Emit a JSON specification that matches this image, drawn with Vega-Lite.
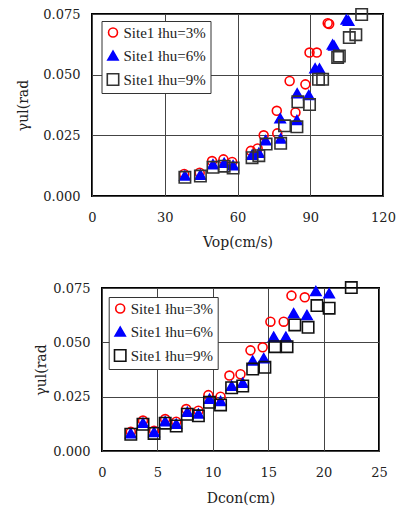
{
  "$schema": "https://vega.github.io/schema/vega-lite/v6.json",
  "background": "white",
  "padding": {"left": 15, "top": 4, "right": 5, "bottom": 2},
  "bounds": "flush",
  "spacing": 92,
  "config": {
    "font": "DejaVu Serif",
    "view": {"stroke": "#000000", "strokeWidth": 2},
    "axis": {
      "grid": true,
      "gridColor": "#444444",
      "gridWidth": 1,
      "gridOpacity": 1,
      "domain": false,
      "ticks": false,
      "labelFlush": false,
      "labelFont": "DejaVu Serif",
      "labelFontSize": 13,
      "labelColor": "#222222",
      "titleFont": "DejaVu Serif",
      "titleFontSize": 14,
      "titleFontWeight": "normal",
      "titleColor": "#222222"
    },
    "legend": {
      "labelFont": "Liberation Serif",
      "labelFontSize": 15,
      "labelColor": "#222222",
      "strokeColor": "#333333",
      "fillColor": "white",
      "padding": 4,
      "rowPadding": 6,
      "labelOffset": 3,
      "symbolStrokeWidth": 1.6
    }
  },
  "datasets": {
    "vop": [
      {"series": "Site1 łhu=3%", "Vop": 38.0, "gamma": 0.0091},
      {"series": "Site1 łhu=3%", "Vop": 44.4, "gamma": 0.0096},
      {"series": "Site1 łhu=3%", "Vop": 49.5, "gamma": 0.0144},
      {"series": "Site1 łhu=3%", "Vop": 54.2, "gamma": 0.0151},
      {"series": "Site1 łhu=3%", "Vop": 57.8, "gamma": 0.0140},
      {"series": "Site1 łhu=3%", "Vop": 65.5, "gamma": 0.0186},
      {"series": "Site1 łhu=3%", "Vop": 68.3, "gamma": 0.0196},
      {"series": "Site1 łhu=3%", "Vop": 70.8, "gamma": 0.0250},
      {"series": "Site1 łhu=3%", "Vop": 76.4, "gamma": 0.0258},
      {"series": "Site1 łhu=3%", "Vop": 76.2, "gamma": 0.0351},
      {"series": "Site1 łhu=3%", "Vop": 83.9, "gamma": 0.0344},
      {"series": "Site1 łhu=3%", "Vop": 81.5, "gamma": 0.0474},
      {"series": "Site1 łhu=3%", "Vop": 88.0, "gamma": 0.0460},
      {"series": "Site1 łhu=3%", "Vop": 89.7, "gamma": 0.0591},
      {"series": "Site1 łhu=3%", "Vop": 92.7, "gamma": 0.0591},
      {"series": "Site1 łhu=3%", "Vop": 97.2, "gamma": 0.0712},
      {"series": "Site1 łhu=3%", "Vop": 97.8, "gamma": 0.0709},
      {"series": "Site1 łhu=6%", "Vop": 38.3, "gamma": 0.0084},
      {"series": "Site1 łhu=6%", "Vop": 44.7, "gamma": 0.0088},
      {"series": "Site1 łhu=6%", "Vop": 49.9, "gamma": 0.0131},
      {"series": "Site1 łhu=6%", "Vop": 54.5, "gamma": 0.0137},
      {"series": "Site1 łhu=6%", "Vop": 58.2, "gamma": 0.0127},
      {"series": "Site1 łhu=6%", "Vop": 66.0, "gamma": 0.0170},
      {"series": "Site1 łhu=6%", "Vop": 68.8, "gamma": 0.0178},
      {"series": "Site1 łhu=6%", "Vop": 71.6, "gamma": 0.0230},
      {"series": "Site1 łhu=6%", "Vop": 77.8, "gamma": 0.0237},
      {"series": "Site1 łhu=6%", "Vop": 77.6, "gamma": 0.0320},
      {"series": "Site1 łhu=6%", "Vop": 84.5, "gamma": 0.0313},
      {"series": "Site1 łhu=6%", "Vop": 84.6, "gamma": 0.0423},
      {"series": "Site1 łhu=6%", "Vop": 89.4, "gamma": 0.0416},
      {"series": "Site1 łhu=6%", "Vop": 92.0, "gamma": 0.0526},
      {"series": "Site1 łhu=6%", "Vop": 93.8, "gamma": 0.0525},
      {"series": "Site1 łhu=6%", "Vop": 99.2, "gamma": 0.0624},
      {"series": "Site1 łhu=6%", "Vop": 99.8, "gamma": 0.0620},
      {"series": "Site1 łhu=6%", "Vop": 104.9, "gamma": 0.0727},
      {"series": "Site1 łhu=6%", "Vop": 105.8, "gamma": 0.0722},
      {"series": "Site1 łhu=9%", "Vop": 38.3, "gamma": 0.0077},
      {"series": "Site1 łhu=9%", "Vop": 44.7, "gamma": 0.0082},
      {"series": "Site1 łhu=9%", "Vop": 49.9, "gamma": 0.0118},
      {"series": "Site1 łhu=9%", "Vop": 54.5, "gamma": 0.0123},
      {"series": "Site1 łhu=9%", "Vop": 58.2, "gamma": 0.0115},
      {"series": "Site1 łhu=9%", "Vop": 66.0, "gamma": 0.0158},
      {"series": "Site1 łhu=9%", "Vop": 68.8, "gamma": 0.0166},
      {"series": "Site1 łhu=9%", "Vop": 71.8, "gamma": 0.0214},
      {"series": "Site1 łhu=9%", "Vop": 77.8, "gamma": 0.0217},
      {"series": "Site1 łhu=9%", "Vop": 79.4, "gamma": 0.0289},
      {"series": "Site1 łhu=9%", "Vop": 84.5, "gamma": 0.0285},
      {"series": "Site1 łhu=9%", "Vop": 84.9, "gamma": 0.0388},
      {"series": "Site1 łhu=9%", "Vop": 89.7, "gamma": 0.0377},
      {"series": "Site1 łhu=9%", "Vop": 93.4, "gamma": 0.0481},
      {"series": "Site1 łhu=9%", "Vop": 95.1, "gamma": 0.0481},
      {"series": "Site1 łhu=9%", "Vop": 101.3, "gamma": 0.0571},
      {"series": "Site1 łhu=9%", "Vop": 102.0, "gamma": 0.0577},
      {"series": "Site1 łhu=9%", "Vop": 106.1, "gamma": 0.0653},
      {"series": "Site1 łhu=9%", "Vop": 108.8, "gamma": 0.0665},
      {"series": "Site1 łhu=9%", "Vop": 111.2, "gamma": 0.0748}
    ],
    "dcon": [
      {"series": "Site1 łhu=3%", "Dcon": 2.6, "gamma": 0.0088},
      {"series": "Site1 łhu=3%", "Dcon": 3.7, "gamma": 0.0140},
      {"series": "Site1 łhu=3%", "Dcon": 4.7, "gamma": 0.0093},
      {"series": "Site1 łhu=3%", "Dcon": 5.7, "gamma": 0.0147},
      {"series": "Site1 łhu=3%", "Dcon": 6.7, "gamma": 0.0135},
      {"series": "Site1 łhu=3%", "Dcon": 7.6, "gamma": 0.0193},
      {"series": "Site1 łhu=3%", "Dcon": 8.7, "gamma": 0.0185},
      {"series": "Site1 łhu=3%", "Dcon": 9.6, "gamma": 0.0257},
      {"series": "Site1 łhu=3%", "Dcon": 10.7, "gamma": 0.0250},
      {"series": "Site1 łhu=3%", "Dcon": 11.5, "gamma": 0.0347},
      {"series": "Site1 łhu=3%", "Dcon": 12.5, "gamma": 0.0353},
      {"series": "Site1 łhu=3%", "Dcon": 13.4, "gamma": 0.0463},
      {"series": "Site1 łhu=3%", "Dcon": 14.5, "gamma": 0.0477},
      {"series": "Site1 łhu=3%", "Dcon": 15.2, "gamma": 0.0595},
      {"series": "Site1 łhu=3%", "Dcon": 16.4, "gamma": 0.0595},
      {"series": "Site1 łhu=3%", "Dcon": 17.1, "gamma": 0.0715},
      {"series": "Site1 łhu=3%", "Dcon": 18.3, "gamma": 0.0707},
      {"series": "Site1 łhu=6%", "Dcon": 2.6, "gamma": 0.0082},
      {"series": "Site1 łhu=6%", "Dcon": 3.7, "gamma": 0.0130},
      {"series": "Site1 łhu=6%", "Dcon": 4.7, "gamma": 0.0087},
      {"series": "Site1 łhu=6%", "Dcon": 5.7, "gamma": 0.0137},
      {"series": "Site1 łhu=6%", "Dcon": 6.7, "gamma": 0.0125},
      {"series": "Site1 łhu=6%", "Dcon": 7.7, "gamma": 0.0180},
      {"series": "Site1 łhu=6%", "Dcon": 8.7, "gamma": 0.0172},
      {"series": "Site1 łhu=6%", "Dcon": 9.7, "gamma": 0.0240},
      {"series": "Site1 łhu=6%", "Dcon": 10.7, "gamma": 0.0230},
      {"series": "Site1 łhu=6%", "Dcon": 11.7, "gamma": 0.0300},
      {"series": "Site1 łhu=6%", "Dcon": 12.7, "gamma": 0.0314},
      {"series": "Site1 łhu=6%", "Dcon": 13.6, "gamma": 0.0416},
      {"series": "Site1 łhu=6%", "Dcon": 14.6, "gamma": 0.0427},
      {"series": "Site1 łhu=6%", "Dcon": 15.5, "gamma": 0.0526},
      {"series": "Site1 łhu=6%", "Dcon": 16.6, "gamma": 0.0526},
      {"series": "Site1 łhu=6%", "Dcon": 17.3, "gamma": 0.0634},
      {"series": "Site1 łhu=6%", "Dcon": 18.5, "gamma": 0.0626},
      {"series": "Site1 łhu=6%", "Dcon": 19.3, "gamma": 0.0736},
      {"series": "Site1 łhu=6%", "Dcon": 20.5, "gamma": 0.0726},
      {"series": "Site1 łhu=9%", "Dcon": 2.6, "gamma": 0.0077},
      {"series": "Site1 łhu=9%", "Dcon": 3.7, "gamma": 0.0123},
      {"series": "Site1 łhu=9%", "Dcon": 4.7, "gamma": 0.0081},
      {"series": "Site1 łhu=9%", "Dcon": 5.7, "gamma": 0.0128},
      {"series": "Site1 łhu=9%", "Dcon": 6.7, "gamma": 0.0115},
      {"series": "Site1 łhu=9%", "Dcon": 7.7, "gamma": 0.0169},
      {"series": "Site1 łhu=9%", "Dcon": 8.7, "gamma": 0.0162},
      {"series": "Site1 łhu=9%", "Dcon": 9.7, "gamma": 0.0224},
      {"series": "Site1 łhu=9%", "Dcon": 10.7, "gamma": 0.0212},
      {"series": "Site1 łhu=9%", "Dcon": 11.7, "gamma": 0.0291},
      {"series": "Site1 łhu=9%", "Dcon": 12.7, "gamma": 0.0299},
      {"series": "Site1 łhu=9%", "Dcon": 13.6, "gamma": 0.0377},
      {"series": "Site1 łhu=9%", "Dcon": 14.7, "gamma": 0.0385},
      {"series": "Site1 łhu=9%", "Dcon": 15.6, "gamma": 0.0480},
      {"series": "Site1 łhu=9%", "Dcon": 16.7, "gamma": 0.0480},
      {"series": "Site1 łhu=9%", "Dcon": 17.4, "gamma": 0.0580},
      {"series": "Site1 łhu=9%", "Dcon": 18.6, "gamma": 0.0569},
      {"series": "Site1 łhu=9%", "Dcon": 19.4, "gamma": 0.0669},
      {"series": "Site1 łhu=9%", "Dcon": 20.5, "gamma": 0.0657},
      {"series": "Site1 łhu=9%", "Dcon": 22.5, "gamma": 0.0752}
    ]
  },
  "vconcat": [
    {
      "width": 291,
      "height": 182,
      "data": {"name": "vop"},
      "mark": {"type": "point", "strokeWidth": 1.6, "opacity": 1},
      "encoding": {
        "x": {
          "field": "Vop", "type": "quantitative",
          "scale": {"domain": [0, 120], "nice": false, "zero": false},
          "axis": {"values": [0, 30, 60, 90, 120], "title": "Vop(cm/s)", "labelPadding": 15, "titlePadding": 11}
        },
        "y": {
          "field": "gamma", "type": "quantitative",
          "scale": {"domain": [0, 0.075], "nice": false},
          "axis": {"values": [0, 0.025, 0.05, 0.075], "format": ".3f", "title": "γul(rad", "labelPadding": 12, "titlePadding": 12}
        },
        "shape": {
          "field": "series", "type": "nominal",
          "scale": {"domain": ["Site1 łhu=3%", "Site1 łhu=6%", "Site1 łhu=9%"], "range": ["circle", "triangle-up", "square"]},
          "legend": {"title": null, "orient": "none", "legendX": 9.5, "legendY": 7}
        },
        "stroke": {
          "field": "series", "type": "nominal",
          "scale": {"domain": ["Site1 łhu=3%", "Site1 łhu=6%", "Site1 łhu=9%"], "range": ["#ff0000", "#0000ff", "#333333"]},
          "legend": {"title": null, "orient": "none", "legendX": 9.5, "legendY": 7}
        },
        "fill": {
          "field": "series", "type": "nominal",
          "scale": {"domain": ["Site1 łhu=3%", "Site1 łhu=6%", "Site1 łhu=9%"], "range": ["transparent", "#0000ff", "transparent"]},
          "legend": {"title": null, "orient": "none", "legendX": 9.5, "legendY": 7}
        },
        "size": {
          "field": "series", "type": "nominal",
          "scale": {"domain": ["Site1 łhu=3%", "Site1 łhu=6%", "Site1 łhu=9%"], "range": [80, 130, 90]},
          "legend": {"title": null, "orient": "none", "legendX": 9.5, "legendY": 7}
        }
      }
    },
    {
      "bounds": "flush",
      "spacing": 9,
      "hconcat": [
        {
          "width": 1,
          "height": 1,
          "view": {"stroke": null},
          "data": {"values": []},
          "mark": "point",
          "encoding": {}
        },
        {
          "width": 277,
          "height": 163,
          "data": {"name": "dcon"},
          "mark": {"type": "point", "strokeWidth": 1.6, "opacity": 1},
          "encoding": {
            "x": {
              "field": "Dcon", "type": "quantitative",
              "scale": {"domain": [0, 25], "nice": false, "zero": false},
              "axis": {"values": [0, 5, 10, 15, 20, 25], "title": "Dcon(cm)", "labelPadding": 15, "titlePadding": 12}
            },
            "y": {
              "field": "gamma", "type": "quantitative",
              "scale": {"domain": [0, 0.075], "nice": false},
              "axis": {"values": [0, 0.025, 0.05, 0.075], "format": ".3f", "title": "γul(rad", "labelPadding": 12, "titlePadding": 4}
            },
            "shape": {
              "field": "series", "type": "nominal",
              "scale": {"domain": ["Site1 łhu=3%", "Site1 łhu=6%", "Site1 łhu=9%"], "range": ["circle", "triangle-up", "square"]},
              "legend": {"title": null, "orient": "none", "legendX": 16.7, "legendY": 9}
            },
            "stroke": {
              "field": "series", "type": "nominal",
              "scale": {"domain": ["Site1 łhu=3%", "Site1 łhu=6%", "Site1 łhu=9%"], "range": ["#ff0000", "#0000ff", "#111111"]},
              "legend": {"title": null, "orient": "none", "legendX": 16.7, "legendY": 9}
            },
            "fill": {
              "field": "series", "type": "nominal",
              "scale": {"domain": ["Site1 łhu=3%", "Site1 łhu=6%", "Site1 łhu=9%"], "range": ["transparent", "#0000ff", "transparent"]},
              "legend": {"title": null, "orient": "none", "legendX": 16.7, "legendY": 9}
            },
            "size": {
              "field": "series", "type": "nominal",
              "scale": {"domain": ["Site1 łhu=3%", "Site1 łhu=6%", "Site1 łhu=9%"], "range": [80, 130, 90]},
              "legend": {"title": null, "orient": "none", "legendX": 16.7, "legendY": 9}
            }
          }
        }
      ]
    }
  ],
  "resolve": {"scale": {"shape": "independent", "stroke": "independent", "fill": "independent", "size": "independent"}, "legend": {"shape": "independent", "stroke": "independent", "fill": "independent", "size": "independent"}}
}
